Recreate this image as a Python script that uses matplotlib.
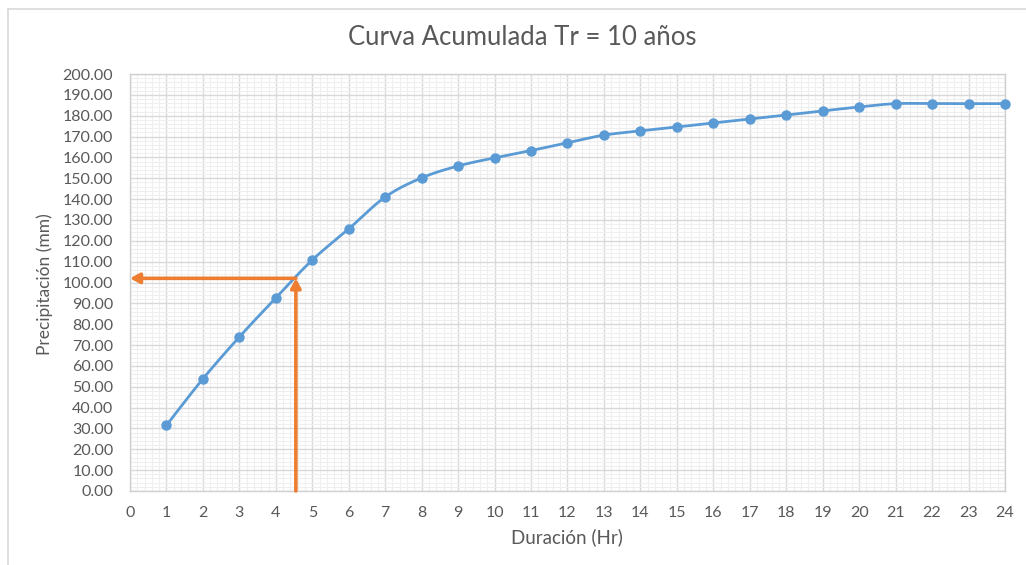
import numpy as np
import matplotlib.pyplot as plt
from matplotlib.ticker import MultipleLocator, FormatStrFormatter
from matplotlib.lines import Line2D

# Cumulative precipitation curve, return period 10 years
duracion = [1, 2, 3, 4, 5, 6, 7, 8, 9, 10, 11, 12, 13, 14, 15, 16, 17, 18,
            19, 20, 21, 22, 23, 24]
precipitacion = [31.5, 53.8, 73.9, 92.6, 110.8, 125.7, 141.0, 150.2, 155.9,
                 159.8, 163.3, 167.0, 170.7, 172.7, 174.6, 176.5, 178.4,
                 180.3, 182.3, 184.2, 185.8, 185.8, 185.8, 185.8]

# Design reading: duration and precipitation marked by the arrows
dur_diseno = 4.55
prec_diseno = 102.0

titulo = "Curva Acumulada Tr = 10 años"
etiqueta_x = "Duración (Hr)"
etiqueta_y = "Precipitación (mm)"

AZUL = "#5B9BD5"
NARANJA = "#ED7D31"
TEXTO = "#595959"

plt.rcParams['font.family'] = ['Lato', 'DejaVu Sans']


def curva_suave(x, y, pasos=20, tension=0.5):
    """Cardinal spline through the points (smoothed line like spreadsheet charts)."""
    x = np.asarray(x, float)
    y = np.asarray(y, float)
    px = np.concatenate([[x[0]], x, [x[-1]]])
    py = np.concatenate([[y[0]], y, [y[-1]]])
    xs, ys = [], []
    t = np.linspace(0, 1, pasos, endpoint=False)
    for i in range(1, len(px) - 2):
        p0, p1, p2, p3 = (np.array([px[j], py[j]]) for j in (i - 1, i, i + 1, i + 2))
        m1 = tension * (p2 - p0)
        m2 = tension * (p3 - p1)
        h00 = 2 * t**3 - 3 * t**2 + 1
        h10 = t**3 - 2 * t**2 + t
        h01 = -2 * t**3 + 3 * t**2
        h11 = t**3 - t**2
        pts = (np.outer(h00, p1) + np.outer(h10, m1) +
               np.outer(h01, p2) + np.outer(h11, m2))
        xs.extend(pts[:, 0])
        ys.extend(pts[:, 1])
    xs.append(x[-1])
    ys.append(y[-1])
    return np.array(xs), np.array(ys)


fig = plt.figure(figsize=(10.26, 5.65), dpi=100)
ax = fig.add_axes([0.1267, 0.131, 0.8528, 0.738])

ax.set_xlim(0, 24)
ax.set_ylim(0, 200)
ax.xaxis.set_major_locator(MultipleLocator(1))
ax.xaxis.set_minor_locator(MultipleLocator(0.2))
ax.yaxis.set_major_locator(MultipleLocator(10))
ax.yaxis.set_minor_locator(MultipleLocator(2))
ax.yaxis.set_major_formatter(FormatStrFormatter('%.2f'))

ax.grid(which='minor', color='#EFEFEF', linewidth=0.8)
ax.grid(which='major', color='#D9D9D9', linewidth=1.0)
ax.set_axisbelow(True)
for s in ax.spines.values():
    s.set_color('#D0D0D0')
    s.set_linewidth(1.0)

ax.tick_params(which='both', length=0)
ax.tick_params(axis='y', pad=12, labelsize=11.5, labelcolor=TEXTO)
ax.tick_params(axis='x', pad=11, labelsize=11.5, labelcolor=TEXTO)

sx, sy = curva_suave(duracion, precipitacion)
ax.plot(sx, sy, color=AZUL, linewidth=2.0, zorder=3, solid_capstyle='round')
ax.plot(duracion, precipitacion, linestyle='none', marker='o', markersize=6.5,
        color=AZUL, zorder=4, clip_on=False)

# Design reading arrows
flecha = dict(arrowstyle='-|>,head_length=0.55,head_width=0.3',
              color=NARANJA, lw=2.6, shrinkA=0, shrinkB=0)
ax.annotate('', xy=(dur_diseno, prec_diseno), xytext=(dur_diseno, 0),
            arrowprops=flecha, zorder=5, annotation_clip=False)
ax.annotate('', xy=(0, prec_diseno), xytext=(dur_diseno, prec_diseno),
            arrowprops=flecha, zorder=5, annotation_clip=False)

fig.text(0.509, 0.933, titulo, ha='center', va='center', fontsize=18.5,
         color=TEXTO)
fig.text(0.553, 0.05, etiqueta_x, ha='center', va='center', fontsize=13.5,
         color=TEXTO)
fig.text(0.044, 0.497, etiqueta_y, ha='center', va='center', fontsize=12.5,
         color=TEXTO, rotation=90)

# Chart frame lines at the top-left edge
fig.add_artist(Line2D([0.008, 1.0], [0.984, 0.984], color='#D9D9D9', lw=1.2))
fig.add_artist(Line2D([0.008, 0.008], [0.0, 0.984], color='#D9D9D9', lw=1.2))

fig.savefig('out.png', dpi=100)
